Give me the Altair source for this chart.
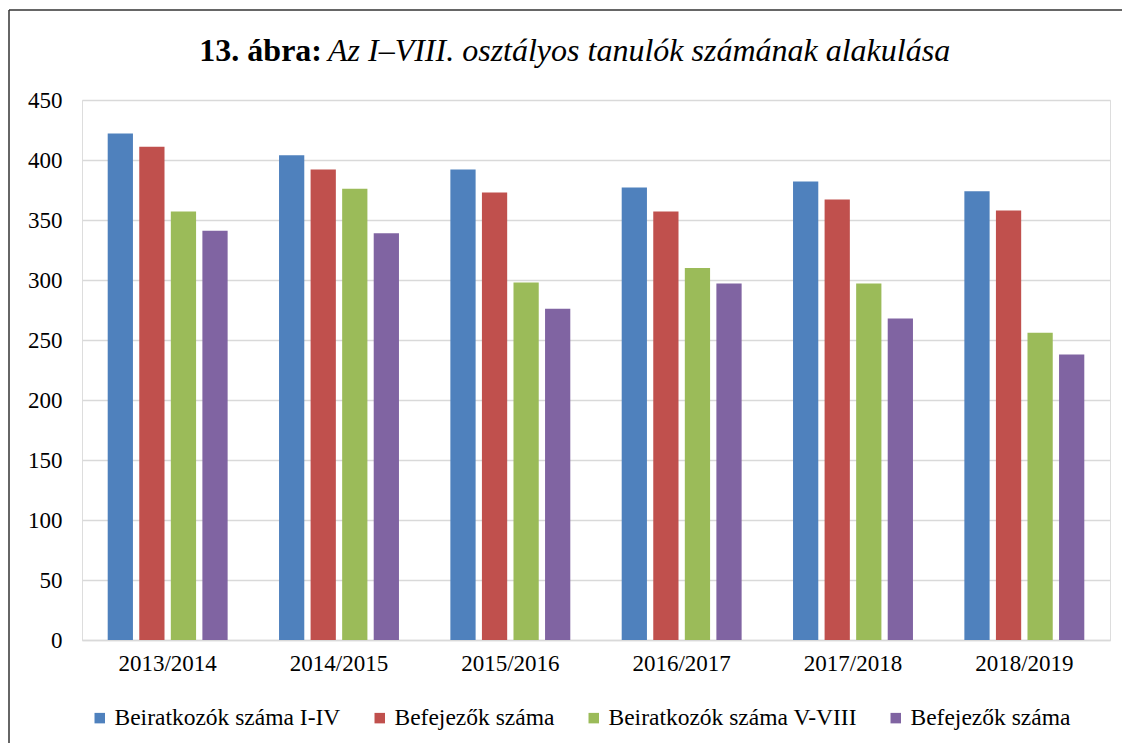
import altair as alt
import pandas as pd

years = ["2013/2014", "2014/2015", "2015/2016", "2016/2017", "2017/2018", "2018/2019"]
series_keys = ["s0", "s1", "s2", "s3"]
series_names = ["Beiratkozók száma I-IV", "Befejezők száma", "Beiratkozók száma V-VIII", "Befejezők száma"]
series_colors = ["#4F81BD", "#C0504D", "#9BBB59", "#8064A2"]

beirat_1_4 = [422, 404, 392, 377, 382, 374]
befej_1_4 = [411, 392, 373, 357, 367, 358]
beirat_5_8 = [357, 376, 298, 310, 297, 256]
befej_5_8 = [341, 339, 276, 297, 268, 238]

y_ticks = [0, 50, 100, 150, 200, 250, 300, 350, 400, 450]
title_bold = "13. ábra:"
title_italic = "Az I–VIII. osztályos tanulók számának alakulása"

all_values = [beirat_1_4, befej_1_4, beirat_5_8, befej_5_8]
rows = []
for key, vals in zip(series_keys, all_values):
    for yr, v in zip(years, vals):
        rows.append({"year": yr, "series": key, "value": v})
df = pd.DataFrame(rows)

FONT = "Liberation Serif"

label_expr = " : ".join(
    f"datum.label == '{k}' ? '{n}'" for k, n in zip(series_keys, series_names)
) + " : datum.label"

bars = alt.Chart(df).mark_bar().encode(
    x=alt.X("year:N", sort=years, title=None,
            scale=alt.Scale(paddingInner=0.3, paddingOuter=0.15),
            axis=alt.Axis(labelFont=FONT, labelFontSize=23, labelColor="black",
                          labelAngle=0, ticks=False, labelPadding=12,
                          domainColor="#d9d9d9", domainWidth=1.5)),
    xOffset=alt.XOffset("series:N", sort=series_keys,
                        scale=alt.Scale(paddingInner=0.2, paddingOuter=0)),
    y=alt.Y("value:Q", title=None,
            scale=alt.Scale(domain=[0, 450], nice=False),
            axis=alt.Axis(values=y_ticks, labelFont=FONT, labelFontSize=23,
                          labelColor="black", ticks=False, domain=False,
                          labelPadding=20, gridColor="#d9d9d9", gridWidth=1.5)),
    color=alt.Color("series:N", sort=series_keys,
                    scale=alt.Scale(domain=series_keys, range=series_colors),
                    legend=alt.Legend(title=None, orient="none", legendX=6, legendY=606,
                                      direction="horizontal", columns=4,
                                      symbolType="square", symbolSize=110,
                                      symbolStrokeWidth=0, labelFont=FONT,
                                      labelFontSize=23.5, labelColor="black",
                                      labelOffset=3, columnPadding=27,
                                      labelLimit=500,
                                      labelExpr=label_expr)),
)

one = pd.DataFrame({"t1": [title_bold], "t2": [title_italic]})

t_bold = alt.Chart(one).mark_text(font=FONT, fontSize=32, fontWeight="bold",
                                  align="right", baseline="alphabetic", color="black").encode(
    x=alt.value(240), y=alt.value(-39), text="t1:N")
t_ital = alt.Chart(one).mark_text(font=FONT, fontSize=32, fontStyle="italic",
                                  align="left", baseline="alphabetic", color="black").encode(
    x=alt.value(246), y=alt.value(-39), text="t2:N")

border_top = alt.Chart(one).mark_rule(color="#333333", strokeWidth=1.5).encode(
    x=alt.value(-73), x2=alt.value(1040), y=alt.value(-90))
border_left = alt.Chart(one).mark_rule(color="#333333", strokeWidth=1.5).encode(
    x=alt.value(-73), y=alt.value(-90), y2=alt.value(643))

chart = alt.layer(bars, t_bold, t_ital, border_top, border_left).properties(
    width=1028, height=540,
    padding={"left": 74, "top": 92, "right": 12, "bottom": 103},
    autosize=alt.AutoSizeParams(type="none"),
).configure_view(stroke=None).configure(background="white")

chart.save("out.html", embed_options={"renderer": "svg", "actions": False})
